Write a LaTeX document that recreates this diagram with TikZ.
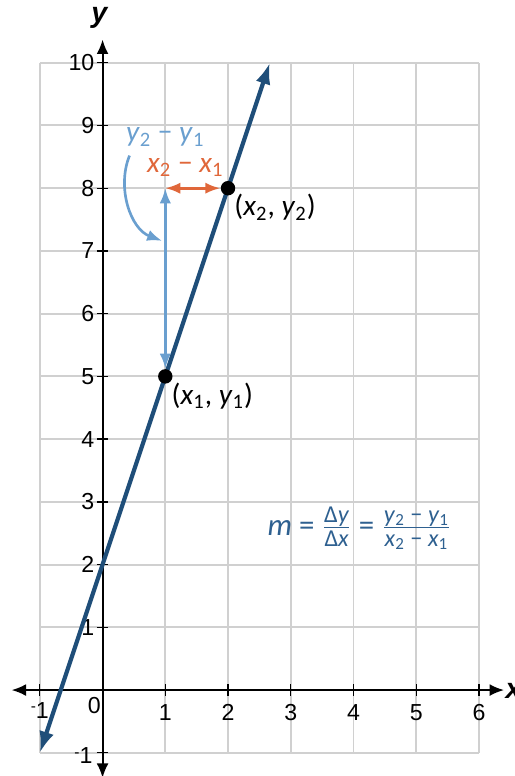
\documentclass[tikz,border=0pt]{standalone}
\usepackage{fontspec}
\setmainfont{Liberation Sans}
\newfontfamily\cfont{Carlito}
\usetikzlibrary{arrows.meta}
\definecolor{navy}{HTML}{1F4E79}
\definecolor{lblue}{HTML}{6A9FCF}
\definecolor{orng}{HTML}{E0673A}
\definecolor{gridc}{HTML}{D0D0D0}
\definecolor{fcol}{HTML}{2E6090}
\newcommand{\vsub}[2]{\textit{#1}\textsubscript{#2}}
\newcommand{\smin}{\raisebox{0.55ex}{\fontsize{7}{8}\selectfont -}}
\begin{document}
\begin{tikzpicture}[
  ticklab/.style={font=\fontsize{10.5}{12}\selectfont, inner sep=1pt},
  mlab/.style={font=\cfont\fontsize{13.3}{15}\selectfont, inner sep=1pt},
  flab/.style={font=\cfont\fontsize{14}{16}\selectfont, inner sep=1pt},
  axisline/.style={black, line width=0.9pt},
  tickmark/.style={black, line width=0.6pt},
  dot/.style={circle, fill=black, minimum size=0.23cm, inner sep=0pt},
  smallhead/.style={{Latex[length=2.4mm,width=1.8mm]}-{Latex[length=2.4mm,width=1.8mm]}},
]
\useasboundingbox (-1.635,-1.37) rectangle (6.571,11.0);
\draw[gridc, line width=0.9pt] (-1,-1) grid (6,10);
% axes
\coordinate (xl) at (-1.45,0);
\coordinate (xr) at (6.40,0);
\coordinate (yb) at (0,-1.40);
\coordinate (yt) at (0,10.37);
\draw[axisline, {Latex[length=2.3mm,width=1.9mm]}-{Latex[length=2.3mm,width=1.9mm]}] (xl) -- (xr);
\draw[axisline, {Latex[length=2.3mm,width=1.9mm]}-{Latex[length=2.3mm,width=1.9mm]}] (yb) -- (yt);
\node[font=\itshape\fontsize{13}{15}\selectfont\bfseries, inner sep=0pt] (ylab) at (-0.05,10.72) {y};
\node[font=\itshape\fontsize{13}{15}\selectfont\bfseries, inner sep=0pt, anchor=west] (xlab) at (6.42,-0.02) {x};
% ticks
\foreach \i in {-1,1,2,3,4,5,6} \draw[tickmark] (\i,-0.09) -- (\i,0.09);
\foreach \j in {-1,1,2,...,10} \draw[tickmark] (-0.09,\j) -- (0.09,\j);
\foreach \i in {1,...,6} \node[ticklab] (xt\i) at (\i,-0.36) {\i};
\node[ticklab] (xtm1) at (-1.0,-0.33) {\smin1};
\node[ticklab] (xt0) at (-0.13,-0.25) {0};
\foreach \j in {1,...,10} \node[ticklab, anchor=east] (yt\j) at (-0.09,\j) {\j};
\node[ticklab, anchor=east] (ytm1) at (-0.12,-1.05) {\smin1};
% line y = 3x + 2
\coordinate (La) at (-1,-1);
\coordinate (Lb) at (2.667,10);
\draw[navy, line width=1.9pt, {Latex[length=3.4mm,width=2.4mm]}-{Latex[length=3.4mm,width=2.4mm]}] (La) -- (Lb);
% points
\node[dot] (P1) at (1,5) {};
\node[dot] (P2) at (2,8) {};
\coordinate (C) at (1,8);
\draw[lblue, line width=1.2pt, smallhead] (C) -- (P1);
\draw[orng, line width=1.2pt, smallhead] (C) -- (P2);
% labels
\node[mlab, text=lblue] (dy) at (1.0,8.82) {\vsub{y}{2} − \vsub{y}{1}};
\node[mlab, text=orng] (dx) at (1.32,8.33) {\vsub{x}{2} − \vsub{x}{1}};
\node[mlab] (l2) at (2.75,7.69) {(\vsub{x}{2}, \vsub{y}{2})};
\node[mlab] (l1) at (1.75,4.69) {(\vsub{x}{1}, \vsub{y}{1})};
\coordinate (ce) at (0.95,7.16);
\coordinate (cs) at (0.43,8.52);
\draw[lblue, line width=1.2pt, -{Latex[length=2.4mm,width=1.8mm]}] (cs) .. controls (0.22,8.0) and (0.45,7.35) .. (ce);
\node[flab, text=fcol] (form) at (4.1,2.58) {\textit{m} = $\frac{\hbox{\cfont\fontsize{11}{12}\selectfont Δ\textit{y}}}{\hbox{\cfont\fontsize{11}{12}\selectfont Δ\textit{x}}}$ = $\frac{\hbox{\cfont\fontsize{11}{12}\selectfont\vsub{y}{2} − \vsub{y}{1}}}{\hbox{\cfont\fontsize{11}{12}\selectfont\vsub{x}{2} − \vsub{x}{1}}}$};
\end{tikzpicture}
\end{document}
